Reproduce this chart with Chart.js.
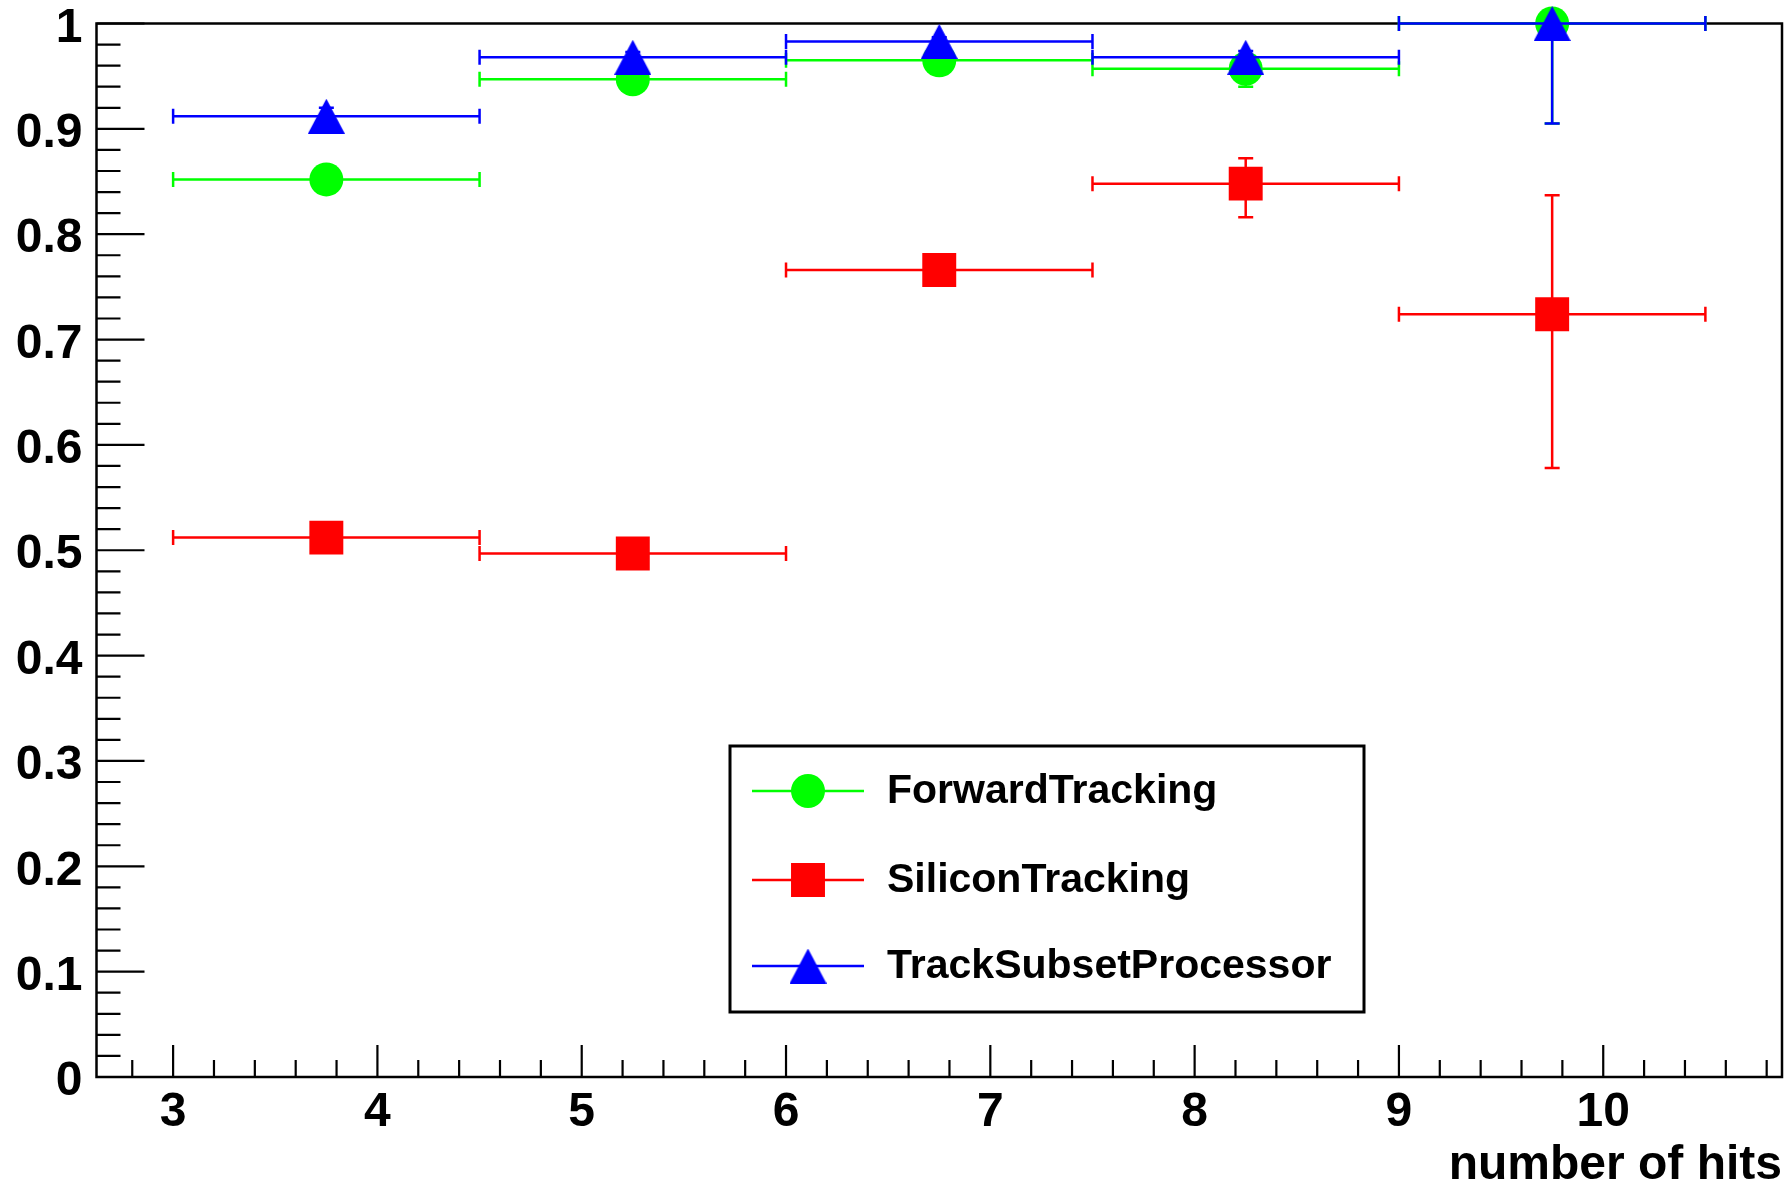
<!DOCTYPE html>
<html>
<head>
<meta charset="utf-8">
<script src="https://cdn.jsdelivr.net/npm/chart.js@4.4.1/dist/chart.umd.min.js"></script>
<style>
  html, body { margin: 0; padding: 0; background: #ffffff; }
  #wrap { width: 1786px; height: 1186px; position: relative; }
</style>
</head>
<body>
<div id="wrap"><canvas id="c" width="1786" height="1186"></canvas></div>
<script>
// ---------------- data ----------------
const binCenters     = [3.75, 5.25, 6.75, 8.25, 9.75];
const binHalfWidths  = [0.75, 0.75, 0.75, 0.75, 0.75];
const seriesNames    = ['ForwardTracking', 'SiliconTracking', 'TrackSubsetProcessor'];

const forwardEff     = [0.852, 0.947, 0.965, 0.957, 1.000];
const forwardErrLow  = [0.010, 0.006, 0.005, 0.017, 0.095];
const forwardErrHigh = [0.010, 0.006, 0.005, 0.012, 0.000];

const siliconEff     = [0.512, 0.497, 0.766, 0.848, 0.724];
const siliconErrLow  = [0.010, 0.010, 0.012, 0.032, 0.146];
const siliconErrHigh = [0.010, 0.010, 0.012, 0.024, 0.113];

const subsetEff      = [0.912, 0.968, 0.983, 0.968, 1.000];
const subsetErrLow   = [0.008, 0.005, 0.004, 0.006, 0.095];
const subsetErrHigh  = [0.008, 0.005, 0.004, 0.006, 0.000];

const xTickValues = [3, 4, 5, 6, 7, 8, 9, 10];
const xTickLabels = ['3', '4', '5', '6', '7', '8', '9', '10'];
const yTickValues = [0, 0.1, 0.2, 0.3, 0.4, 0.5, 0.6, 0.7, 0.8, 0.9, 1];
const yTickLabels = ['0', '0.1', '0.2', '0.3', '0.4', '0.5', '0.6', '0.7', '0.8', '0.9', '1'];
const xRange = [2.625, 10.875];
const yRange = [0, 1];
const xAxisTitle = 'number of hits';

// ---------------- styles ----------------
const FONT = "'Liberation Sans', Arial, Helvetica, sans-serif";
const GREEN = '#00ff00', RED = '#ff0000', BLUE = '#0000ff';

function makeTriangle(color) {
  const c = document.createElement('canvas');
  c.width = 37; c.height = 35;
  const g = c.getContext('2d');
  g.fillStyle = color;
  g.beginPath();
  g.moveTo(18.5, 0); g.lineTo(37, 35); g.lineTo(0, 35); g.closePath();
  g.fill();
  return c;
}
const triangleImg = makeTriangle(BLUE);

function points(eff, lo, hi) {
  return binCenters.map((x, i) => ({ x: x, y: eff[i], xErr: binHalfWidths[i], yLo: lo[i], yHi: hi[i] }));
}

const datasets = [
  { label: seriesNames[0], data: points(forwardEff, forwardErrLow, forwardErrHigh),
    color: GREEN, pointStyle: 'circle', pointRadius: 17, order: 2 },
  { label: seriesNames[1], data: points(siliconEff, siliconErrLow, siliconErrHigh),
    color: RED, pointStyle: 'rect', pointRadius: 24, order: 1 },
  { label: seriesNames[2], data: points(subsetEff, subsetErrLow, subsetErrHigh),
    color: BLUE, pointStyle: triangleImg, pointRadius: 18, order: 0 }
].map(d => Object.assign(d, {
  showLine: false,
  backgroundColor: d.color,
  borderColor: d.color,
  pointBackgroundColor: d.color,
  pointBorderColor: d.color,
  pointBorderWidth: 0,
  pointHoverRadius: d.pointRadius,
  clip: false
}));

// ---------------- plugins ----------------
const framePlugin = {
  id: 'rootFrame',
  beforeDatasetsDraw(chart) {
    const ctx = chart.ctx, ca = chart.chartArea;
    const xs = chart.scales.x, ys = chart.scales.y;
    ctx.save();
    ctx.strokeStyle = '#000';
    ctx.lineWidth = 2.5;
    ctx.strokeRect(ca.left, ca.top, ca.right - ca.left, ca.bottom - ca.top);
    ctx.lineWidth = 2.2;
    ctx.beginPath();
    // y ticks (inward, to the right)
    const yStep = yTickValues[1] - yTickValues[0];
    const yMinor = yStep / 5;
    const nY = Math.round((yRange[1] - yRange[0]) / yMinor);
    for (let i = 0; i <= nY; i++) {
      const v = yRange[0] + i * yMinor;
      const p = ys.getPixelForValue(v);
      const len = (i % 5 === 0) ? 48 : 24;
      ctx.moveTo(ca.left, p); ctx.lineTo(ca.left + len, p);
    }
    // x ticks (inward, upward)
    const xStep = xTickValues[1] - xTickValues[0];
    const xMinor = xStep / 5;
    const k0 = Math.ceil((xRange[0] - xTickValues[0]) / xMinor - 1e-9);
    const k1 = Math.floor((xRange[1] - xTickValues[0]) / xMinor + 1e-9);
    for (let k = k0; k <= k1; k++) {
      const v = xTickValues[0] + k * xMinor;
      const p = xs.getPixelForValue(v);
      const len = (((k % 5) + 5) % 5 === 0) ? 32 : 17;
      ctx.moveTo(p, ca.bottom); ctx.lineTo(p, ca.bottom - len);
    }
    ctx.stroke();
    ctx.restore();
  }
};

const errorBarPlugin = {
  id: 'errorBars',
  beforeDatasetDraw(chart, args) {
    const ds = chart.data.datasets[args.index];
    const ctx = chart.ctx, xs = chart.scales.x, ys = chart.scales.y;
    const cap = 7.5;
    ctx.save();
    ctx.strokeStyle = ds.borderColor;
    ctx.lineWidth = 2.5;
    ctx.beginPath();
    ds.data.forEach(p => {
      const cx = xs.getPixelForValue(p.x);
      const cy = ys.getPixelForValue(p.y);
      const x0 = xs.getPixelForValue(p.x - p.xErr);
      const x1 = xs.getPixelForValue(p.x + p.xErr);
      ctx.moveTo(x0, cy); ctx.lineTo(x1, cy);
      ctx.moveTo(x0, cy - cap); ctx.lineTo(x0, cy + cap);
      ctx.moveTo(x1, cy - cap); ctx.lineTo(x1, cy + cap);
      if (p.yLo > 0) {
        const yl = ys.getPixelForValue(p.y - p.yLo);
        ctx.moveTo(cx, cy); ctx.lineTo(cx, yl);
        ctx.moveTo(cx - cap, yl); ctx.lineTo(cx + cap, yl);
      }
      if (p.yHi > 0) {
        const yh = ys.getPixelForValue(p.y + p.yHi);
        ctx.moveTo(cx, cy); ctx.lineTo(cx, yh);
        ctx.moveTo(cx - cap, yh); ctx.lineTo(cx + cap, yh);
      }
    });
    ctx.stroke();
    ctx.restore();
  }
};

const legendPlugin = {
  id: 'rootLegend',
  afterDraw(chart) {
    const ctx = chart.ctx;
    const box = { x: 730, y: 746, w: 634, h: 266 };
    ctx.save();
    ctx.fillStyle = '#fff';
    ctx.fillRect(box.x, box.y, box.w, box.h);
    ctx.strokeStyle = '#000';
    ctx.lineWidth = 3;
    ctx.strokeRect(box.x, box.y, box.w, box.h);
    const rowsY = [791, 880, 966];
    chart.data.datasets.forEach((ds, i) => {
      const y = rowsY[i];
      ctx.strokeStyle = ds.borderColor;
      ctx.lineWidth = 2.5;
      ctx.beginPath(); ctx.moveTo(752, y); ctx.lineTo(864, y); ctx.stroke();
      ctx.fillStyle = ds.backgroundColor;
      Chart.helpers.drawPoint(ctx, { pointStyle: ds.pointStyle, radius: ds.pointRadius, rotation: 0, borderWidth: 0 }, 808, y);
      ctx.fillStyle = '#000';
      ctx.font = 'bold 41px ' + FONT;
      ctx.textAlign = 'left';
      ctx.textBaseline = 'middle';
      ctx.fillText(ds.label, 887, y + 1);
    });
    ctx.restore();
  }
};

function zeroPadding(s) {
  s.paddingLeft = 0; s.paddingRight = 0; s.paddingTop = 0; s.paddingBottom = 0;
}

// ---------------- chart ----------------
new Chart(document.getElementById('c'), {
  type: 'scatter',
  data: { datasets: datasets },
  options: {
    responsive: false,
    animation: false,
    devicePixelRatio: 1,
    layout: { autoPadding: false, padding: { top: 23.5, right: 4, bottom: 0, left: 0 } },
    plugins: { legend: { display: false }, tooltip: { enabled: false } },
    events: [],
    scales: {
      x: {
        type: 'linear',
        min: xRange[0], max: xRange[1],
        afterBuildTicks: s => { s.ticks = xTickValues.map(v => ({ value: v })); },
        afterFit: s => { s.height = 109; zeroPadding(s); },
        grid: { display: false, drawTicks: false },
        border: { display: false },
        ticks: {
          autoSkip: false, maxRotation: 0, padding: 7, color: '#000',
          font: { family: FONT, weight: 'bold', size: 48 },
          callback: (v, i) => xTickLabels[i]
        },
        title: {
          display: true, text: xAxisTitle, align: 'end', color: '#000',
          padding: { top: 0, bottom: -4 },
          font: { family: FONT, weight: 'bold', size: 48, lineHeight: 1 }
        }
      },
      y: {
        type: 'linear',
        min: yRange[0], max: yRange[1],
        afterBuildTicks: s => { s.ticks = yTickValues.map(v => ({ value: v })); },
        afterFit: s => { s.width = 96.5; zeroPadding(s); },
        grid: { display: false, drawTicks: false },
        border: { display: false },
        ticks: {
          autoSkip: false, padding: 14, labelOffset: 5, color: '#000',
          font: { family: FONT, weight: 'bold', size: 48 },
          callback: (v, i) => yTickLabels[i]
        }
      }
    }
  },
  plugins: [framePlugin, errorBarPlugin, legendPlugin]
});
</script>
</body>
</html>
